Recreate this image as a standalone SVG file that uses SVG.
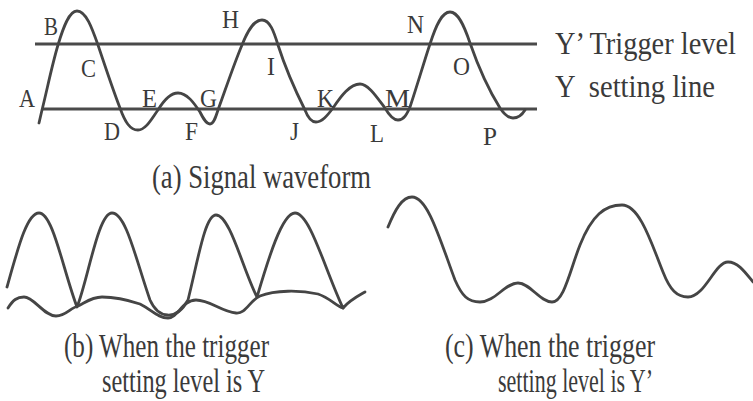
<svg xmlns="http://www.w3.org/2000/svg" width="753" height="401" viewBox="0 0 753 401">
<style>
.wave{fill:none;stroke:#454545;stroke-width:2.8;stroke-linecap:round;stroke-linejoin:round}
.lvl{fill:none;stroke:#4a4a4a;stroke-width:2.8}
.lbl{font-family:"Liberation Serif","Times New Roman",serif;font-size:26px;fill:#3a3a3a}
.side{font-family:"Liberation Serif","Times New Roman",serif;font-size:31px;fill:#3a3a3a;white-space:pre}
.cap{font-family:"Liberation Serif","Times New Roman",serif;font-size:33px;fill:#3a3a3a}
</style>
<rect width="753" height="401" fill="#ffffff"/>
<g id="levels">
<path class="lvl" d="M35,44 L537,44"/>
<path class="lvl" d="M42,109 L537,109"/>
</g>
<g id="signal-a">
<path class="wave" d="M39,123 L42,110 C47,90 52,65 58,45 C63,28 69,11 77,11 C86,11 92,28 98,45 C105,66 113,90 120,108 C125,122 130,130 138,130 C146,130 152,118 158,110 C164,100 170,93 178,93 C187,93 194,103 200,112 C203,118 206,124 210,124 C214,124 216,116 218,110 C226,88 234,64 242,45 C248,30 254,20 262,20 C270,20 274,32 278,45 C286,70 296,92 305,110 C308,118 311,122 316,122 C322,122 327,116 333,108 C341,96 350,84 360,84 C368,84 376,96 385,108 C389,115 393,120 398,120 C404,120 407,114 410,107 C417,86 424,62 430,44 C436,25 442,12 450,12 C458,12 464,25 470,43 C478,66 490,92 500,108 C504,114 508,118 513,118 C518,118 522,115 525,110"/>
</g>
<g id="point-labels">
<text class="lbl" x="44" y="35" textLength="14" lengthAdjust="spacingAndGlyphs">B</text>
<text class="lbl" x="81" y="77" textLength="15" lengthAdjust="spacingAndGlyphs">C</text>
<text class="lbl" x="19" y="107" textLength="16" lengthAdjust="spacingAndGlyphs">A</text>
<text class="lbl" x="104" y="140" textLength="16" lengthAdjust="spacingAndGlyphs">D</text>
<text class="lbl" x="142" y="107" textLength="15" lengthAdjust="spacingAndGlyphs">E</text>
<text class="lbl" x="185" y="140" textLength="13" lengthAdjust="spacingAndGlyphs">F</text>
<text class="lbl" x="200" y="107" textLength="17" lengthAdjust="spacingAndGlyphs">G</text>
<text class="lbl" x="222" y="28" textLength="17" lengthAdjust="spacingAndGlyphs">H</text>
<text class="lbl" x="267" y="75" textLength="8" lengthAdjust="spacingAndGlyphs">I</text>
<text class="lbl" x="290" y="140" textLength="9" lengthAdjust="spacingAndGlyphs">J</text>
<text class="lbl" x="317" y="107" textLength="17" lengthAdjust="spacingAndGlyphs">K</text>
<text class="lbl" x="370" y="142" textLength="14" lengthAdjust="spacingAndGlyphs">L</text>
<text class="lbl" x="385" y="107" textLength="25" lengthAdjust="spacingAndGlyphs">M</text>
<text class="lbl" x="407" y="33" textLength="17" lengthAdjust="spacingAndGlyphs">N</text>
<text class="lbl" x="453" y="75" textLength="17" lengthAdjust="spacingAndGlyphs">O</text>
<text class="lbl" x="483" y="145" textLength="14" lengthAdjust="spacingAndGlyphs">P</text>
</g>
<g id="level-names">
<text class="side" x="555" y="54" textLength="181" lengthAdjust="spacingAndGlyphs">Y’ Trigger level</text>
<text class="side" x="555" y="97" textLength="160" lengthAdjust="spacingAndGlyphs">Y  setting line</text>
</g>
<g id="caption-a">
<text class="cap" x="152" y="188" font-size="31" textLength="219" lengthAdjust="spacingAndGlyphs">(a) Signal waveform</text>
</g>
<g id="display-b">
<path class="wave" d="M7,287 C18,248 27,213 39,213 C53,213 63,270 77,307 C88,280 98,213 112,213 C126,213 136,260 150,300 C158,318 176,322 188,300 C198,260 205,215 216,215 C230,215 243,270 257,297 C268,260 282,213 295,213 C310,213 325,270 343,308 C350,300 358,296 365,292"/>
<path class="wave" d="M8,308 C13,300 17,297 24,297 C34,297 44,316 56,316 C66,316 70,308 78,306 C86,302 92,297 102,297 C116,297 128,300 140,304 C152,310 158,318 168,318 C178,318 182,300 196,300 C210,300 222,312 236,313 C246,314 250,300 260,296 C275,290 300,290 318,294 C330,298 336,306 343,308"/>
<text class="cap" x="64" y="357" textLength="205" lengthAdjust="spacingAndGlyphs">(b) When the trigger</text>
<text class="cap" x="102" y="392" textLength="163" lengthAdjust="spacingAndGlyphs">setting level is Y</text>
</g>
<g id="display-c">
<path class="wave" d="M388,227 C395,210 402,197 412,197 C428,197 440,240 455,280 C462,296 468,302 480,302 C495,302 505,283 518,283 C530,283 540,302 552,302 C564,302 570,270 580,245 C592,215 605,205 622,205 C640,205 652,245 663,272 C670,290 677,297 688,297 C705,297 715,262 728,262 C738,262 745,272 753,282"/>
<text class="cap" x="445" y="357" textLength="210" lengthAdjust="spacingAndGlyphs">(c) When the trigger</text>
<text class="cap" x="498" y="392" textLength="155" lengthAdjust="spacingAndGlyphs">setting level is Y’</text>
</g>
</svg>
